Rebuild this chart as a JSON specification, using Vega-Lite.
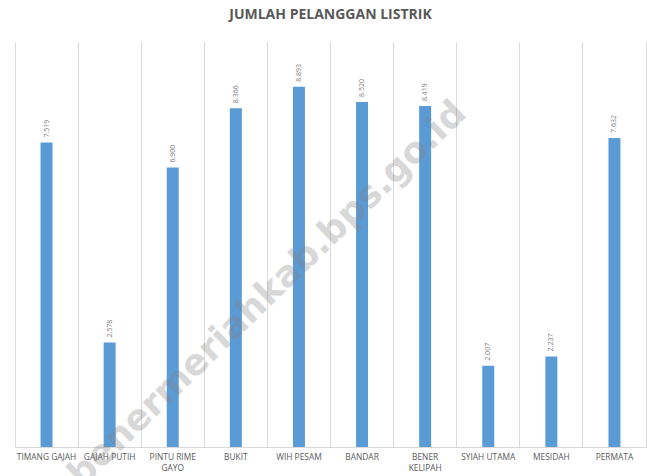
{
  "$schema": "https://vega.github.io/schema/vega-lite/v6.json",
  "width": 631,
  "height": 405,
  "autosize": {"type": "none"},
  "padding": {"left": 15, "top": 42, "right": 1, "bottom": 29},
  "background": "white",
  "title": {
    "text": "JUMLAH PELANGGAN LISTRIK",
    "font": "Open Sans",
    "fontSize": 14,
    "fontWeight": "bold",
    "color": "#595959",
    "anchor": "middle",
    "baseline": "alphabetic",
    "offset": 9
  },
  "data": {
    "values": [
      {"kecamatan": "TIMANG GAJAH", "pelanggan": 7519},
      {"kecamatan": "GAJAH PUTIH", "pelanggan": 2578},
      {"kecamatan": "PINTU RIME GAYO", "pelanggan": 6900},
      {"kecamatan": "BUKIT", "pelanggan": 8366},
      {"kecamatan": "WIH PESAM", "pelanggan": 8893},
      {"kecamatan": "BANDAR", "pelanggan": 8520},
      {"kecamatan": "BENER KELIPAH", "pelanggan": 8419},
      {"kecamatan": "SYIAH UTAMA", "pelanggan": 2007},
      {"kecamatan": "MESIDAH", "pelanggan": 2237},
      {"kecamatan": "PERMATA", "pelanggan": 7632}
    ]
  },
  "resolve": {"axis": {"x": "independent"}},
  "layer": [
    {
      "mark": {"type": "bar", "color": "#5B9BD5", "width": {"band": 0.19}},
      "encoding": {
        "x": {
          "field": "kecamatan",
          "type": "nominal",
          "sort": null,
          "scale": {"paddingInner": 0, "paddingOuter": 0},
          "axis": {
            "orient": "bottom",
            "title": null,
            "grid": true,
            "gridColor": "#d9d9d9",
            "bandPosition": 0,
            "domainColor": "#d9d9d9",
            "ticks": false,
            "labelAngle": 0,
            "labelFont": "Open Sans",
            "labelFontSize": 8.4,
            "labelColor": "#595959",
            "labelPadding": 5,
            "labelBaseline": "top",
            "labelLineHeight": 11,
            "labelExpr": "datum.value == 'PINTU RIME GAYO' ? ['PINTU RIME', 'GAYO'] : datum.value == 'BENER KELIPAH' ? ['BENER', 'KELIPAH'] : datum.value"
          }
        },
        "y": {
          "field": "pelanggan",
          "type": "quantitative",
          "scale": {"domain": [0, 10000]},
          "axis": null
        }
      }
    },
    {
      "mark": {
        "type": "text",
        "angle": 270,
        "align": "left",
        "baseline": "middle",
        "dx": 5,
        "font": "Open Sans",
        "fontSize": 7,
        "color": "#7f7f7f"
      },
      "encoding": {
        "x": {
          "field": "kecamatan",
          "type": "nominal",
          "sort": null,
          "axis": {
            "orient": "top",
            "title": null,
            "grid": true,
            "gridColor": "#d9d9d9",
            "bandPosition": 1,
            "labels": false,
            "ticks": false,
            "domain": false
          }
        },
        "y": {"field": "pelanggan", "type": "quantitative"},
        "text": {"field": "pelanggan", "type": "quantitative", "format": ","}
      }
    },
    {
      "data": {"values": [{"watermark": "benermeriahkab.bps.go.id"}]},
      "mark": {
        "type": "text",
        "angle": 316,
        "align": "center",
        "baseline": "middle",
        "font": "DejaVu Sans",
        "fontSize": 36,
        "fontWeight": "bold",
        "color": "#808080",
        "opacity": 0.3
      },
      "encoding": {
        "x": {"datum": "WIH PESAM", "bandPosition": 0, "axis": null},
        "y": {"datum": 3780},
        "text": {"field": "watermark"}
      }
    }
  ],
  "config": {
    "view": {"stroke": null},
    "locale": {"number": {"decimal": ",", "thousands": ".", "grouping": [3], "currency": ["", ""]}}
  }
}
